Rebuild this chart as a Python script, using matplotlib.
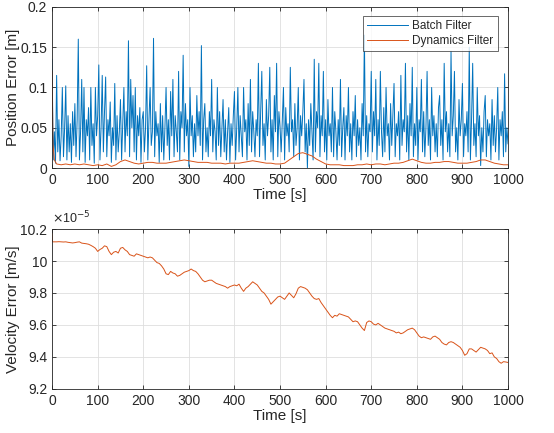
import numpy as np
import matplotlib
matplotlib.use("Agg")
import matplotlib.pyplot as plt

# ---------------- data ----------------
batch_step = 2.5
batch_err = [
    0.135,0.01,0.045,0.006,0.115,0.02,0.06,0.009,0.04,0.1,0.014,0.05,0.102,0.01,0.065,0.02,0.055,0.007,0.07,0.028,
    0.08,0.014,0.06,0.16,0.01,0.045,0.11,0.02,0.1,0.007,0.06,0.04,0.075,0.01,0.1,0.028,0.055,0.006,0.1,0.04,
    0.065,0.128,0.01,0.05,0.115,0.02,0.07,0.113,0.014,0.06,0.04,0.082,0.007,0.05,0.028,0.105,0.01,0.065,0.02,0.045,
    0.085,0.01,0.055,0.1,0.02,0.07,0.04,0.158,0.014,0.11,0.05,0.09,0.02,0.1,0.01,0.065,0.04,0.075,0.007,0.06,
    0.07,0.02,0.05,0.127,0.01,0.06,0.1,0.028,0.045,0.161,0.014,0.07,0.04,0.055,0.007,0.08,0.02,0.065,0.01,0.05,
    0.1,0.028,0.06,0.01,0.095,0.04,0.11,0.014,0.065,0.045,0.02,0.12,0.01,0.07,0.05,0.14,0.02,0.08,0.04,0.06,
    0.002,0.1,0.04,0.065,0.014,0.055,0.02,0.09,0.04,0.07,0.028,0.152,0.01,0.06,0.08,0.02,0.05,0.014,0.07,0.04,
    0.11,0.02,0.06,0.045,0.01,0.1,0.028,0.07,0.014,0.05,0.085,0.02,0.06,0.01,0.045,0.075,0.007,0.055,0.028,0.065,
    0.095,0.01,0.05,0.1,0.02,0.065,0.04,0.014,0.1,0.045,0.06,0.01,0.08,0.028,0.11,0.02,0.07,0.045,0.014,0.06,
    0.04,0.13,0.014,0.07,0.12,0.028,0.055,0.01,0.085,0.04,0.065,0.125,0.02,0.06,0.01,0.09,0.045,0.13,0.014,0.07,
    0.05,0.02,0.06,0.1,0.01,0.075,0.04,0.055,0.02,0.125,0.045,0.06,0.014,0.08,0.028,0.05,0.1,0.01,0.065,0.04,
    0.07,0.11,0.02,0.055,0.0,0.06,0.028,0.08,0.045,0.01,0.135,0.02,0.07,0.05,0.13,0.014,0.065,0.04,0.12,0.02,
    0.06,0.01,0.085,0.04,0.055,0.02,0.1,0.014,0.07,0.045,0.01,0.06,0.028,0.11,0.014,0.05,0.075,0.01,0.065,0.04,
    0.1,0.02,0.055,0.01,0.07,0.04,0.09,0.014,0.06,0.028,0.05,0.01,0.08,0.04,0.165,0.02,0.065,0.014,0.055,0.045,
    0.12,0.02,0.07,0.04,0.11,0.01,0.06,0.028,0.12,0.045,0.014,0.075,0.02,0.1,0.04,0.055,0.01,0.08,0.028,0.065,
    0.105,0.014,0.055,0.04,0.07,0.01,0.115,0.028,0.06,0.045,0.13,0.02,0.065,0.01,0.08,0.04,0.125,0.014,0.055,0.028,
    0.1,0.01,0.06,0.045,0.11,0.02,0.07,0.014,0.05,0.12,0.028,0.06,0.01,0.1,0.04,0.065,0.02,0.055,0.014,0.075,
    0.09,0.028,0.06,0.01,0.13,0.045,0.07,0.02,0.055,0.014,0.145,0.04,0.065,0.12,0.02,0.05,0.01,0.085,0.04,0.06,
    0.105,0.014,0.055,0.04,0.07,0.02,0.15,0.01,0.06,0.13,0.028,0.055,0.014,0.1,0.04,0.065,0.003,0.05,0.02,0.07,
    0.09,0.014,0.06,0.04,0.055,0.01,0.085,0.028,0.065,0.02,0.05,0.1,0.01,0.06,0.04,0.07,0.014,0.117,0.02,0.05,
    0.03,
]
batch_t = np.arange(len(batch_err)) * batch_step

dyn_t = [0, 2, 5, 10] + list(range(20, 1001, 10))
dyn_err = [
    0.12, 0.03, 0.01, 0.005,
    0.004,0.005,0.004,0.005,0.004,0.005,0.004,0.003,0.004,0.003,
    0.005,0.002,0.004,0.008,0.010,0.008,0.006,0.005,0.006,0.007,
    0.007,0.006,0.006,0.006,0.007,0.008,0.009,0.010,0.009,0.008,
    0.007,0.007,0.007,0.006,0.006,0.006,0.005,0.006,0.006,0.006,
    0.007,0.008,0.009,0.008,0.007,0.006,0.006,0.005,0.005,0.006,
    0.010,0.014,0.018,0.019,0.017,0.015,0.011,0.008,0.005,0.004,
    0.004,0.004,0.003,0.003,0.003,0.004,0.004,0.005,0.004,0.005,
    0.005,0.004,0.005,0.006,0.006,0.007,0.009,0.011,0.009,0.007,
    0.006,0.006,0.007,0.007,0.008,0.008,0.007,0.006,0.006,0.006,
    0.007,0.008,0.010,0.010,0.008,0.006,0.005,0.004,0.004,
]

vel_t = [0, 1] + list(range(10, 1001, 5))
vel_err_e5 = [
    10.17, 10.12,
    10.12,10.121,10.12,10.119,10.12,10.117,10.115,10.113,10.115,10.118,
    10.12,10.112,10.11,10.108,10.105,10.098,10.09,10.08,10.06,10.072,
    10.08,10.095,10.09,10.06,10.04,10.055,10.06,10.05,10.08,10.085,
    10.07,10.06,10.04,10.035,10.03,10.045,10.04,10.035,10.03,10.025,
    10.02,10.025,10.02,10.005,9.99,9.985,9.97,9.95,9.92,9.915,
    9.935,9.925,9.92,9.905,9.91,9.92,9.93,9.935,9.94,9.95,
    9.94,9.935,9.92,9.90,9.88,9.87,9.875,9.88,9.88,9.87,
    9.86,9.855,9.85,9.845,9.84,9.83,9.84,9.845,9.85,9.845,
    9.855,9.83,9.81,9.83,9.84,9.855,9.87,9.86,9.85,9.83,
    9.81,9.80,9.78,9.76,9.73,9.745,9.76,9.775,9.78,9.77,
    9.76,9.78,9.80,9.785,9.77,9.795,9.83,9.84,9.835,9.83,
    9.82,9.80,9.78,9.765,9.76,9.765,9.74,9.72,9.70,9.68,
    9.66,9.645,9.66,9.655,9.67,9.665,9.66,9.655,9.65,9.635,
    9.62,9.625,9.62,9.60,9.58,9.565,9.615,9.625,9.62,9.605,
    9.60,9.61,9.60,9.59,9.58,9.575,9.57,9.565,9.56,9.55,
    9.555,9.545,9.55,9.56,9.57,9.575,9.58,9.57,9.55,9.53,
    9.52,9.525,9.52,9.515,9.51,9.525,9.53,9.52,9.51,9.49,
    9.48,9.475,9.49,9.495,9.49,9.48,9.47,9.46,9.44,9.41,
    9.42,9.45,9.45,9.44,9.43,9.445,9.46,9.455,9.45,9.44,
    9.42,9.425,9.40,9.39,9.37,9.36,9.37,9.368,9.365,
]

x_ticks = list(range(0, 1001, 100))
pos_ticks = [0, 0.05, 0.1, 0.15, 0.2]
pos_tick_labels = ["0", "0.05", "0.1", "0.15", "0.2"]
vel_ticks = [9.2, 9.4, 9.6, 9.8, 10.0, 10.2]
vel_tick_labels = ["9.2", "9.4", "9.6", "9.8", "10", "10.2"]

# ---------------- style ----------------
plt.rcParams['font.family'] = ['Liberation Sans', 'DejaVu Sans']
TXT = '#262626'
BLUE = '#0072BD'
ORANGE = '#D95319'

fig = plt.figure(figsize=(5.54, 4.33), dpi=100)
ax1 = fig.add_axes([0.094, 0.612, 0.823, 0.372])
ax2 = fig.add_axes([0.094, 0.102, 0.823, 0.369])

def style(ax):
    ax.tick_params(direction='in', top=True, right=True, labelsize=10,
                   colors=TXT, length=3, width=0.6)
    for s in ax.spines.values():
        s.set_color(TXT)
        s.set_linewidth(0.6)
    ax.grid(True, color='#dedede', linewidth=0.6)
    ax.set_axisbelow(True)
    ax.set_xlim(0, 1000)
    ax.set_xticks(x_ticks)
    ax.set_xlabel('Time [s]', fontsize=11, color=TXT, labelpad=1)

ax1.plot(batch_t, batch_err, color=BLUE, lw=0.7, label='Batch Filter')
ax1.plot(dyn_t, dyn_err, color=ORANGE, lw=0.7, label='Dynamics Filter')
style(ax1)
ax1.set_ylim(0, 0.2)
ax1.set_yticks(pos_ticks)
ax1.set_yticklabels(pos_tick_labels)
ax1.set_ylabel('Position Error [m]', fontsize=11, color=TXT, labelpad=0)
leg = ax1.legend(loc='upper right', bbox_to_anchor=(0.977, 0.946), borderaxespad=0,
                 fontsize=8.5, frameon=True, fancybox=False, handlelength=3.4,
                 borderpad=0.35, labelspacing=0.25, handletextpad=0.4)
leg.get_frame().set_edgecolor(TXT)
leg.get_frame().set_linewidth(0.6)
for t in leg.get_texts():
    t.set_color(TXT)

ax2.plot(vel_t, vel_err_e5, color=ORANGE, lw=0.7)
style(ax2)
ax2.set_ylim(9.2, 10.2)
ax2.set_yticks(vel_ticks)
ax2.set_yticklabels(vel_tick_labels)
ax2.set_ylabel('Velocity Error [m/s]', fontsize=11, color=TXT, labelpad=0)
ax2.text(0.0, 1.015, r'$\times$10$^{-5}$', transform=ax2.transAxes, fontsize=9,
         color=TXT, ha='left', va='bottom')

fig.savefig('out.png', dpi=100)
